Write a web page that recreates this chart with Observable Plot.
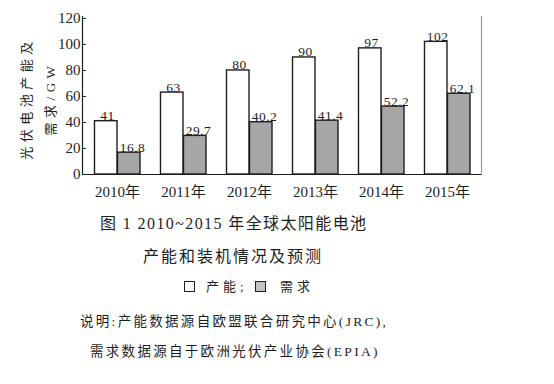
<!DOCTYPE html>
<html><head><meta charset="utf-8">
<script src="https://cdn.jsdelivr.net/npm/d3@7"></script>
<script src="https://cdn.jsdelivr.net/npm/@observablehq/plot@0.6"></script>
<style>
body{margin:0;background:#fff;width:554px;height:384px;position:relative;overflow:hidden;font-family:"Liberation Serif","Noto Sans CJK SC",serif;color:#1e1e1e}
#chart{position:absolute;left:0;top:0}
.cap{position:absolute;white-space:nowrap;line-height:1}
.box{position:absolute;width:9px;height:9px;border:1.4px solid #1e1e1e}
</style></head><body>
<div id="chart"></div>
<div class="cap" id="t1" style="left:100px;top:216px;font-size:16px;letter-spacing:1.4px">图 1 2010~2015 年全球太阳能电池</div>
<div class="cap" id="t2" style="left:143px;top:249px;font-size:16px;letter-spacing:2px">产能和装机情况及预测</div>
<div class="box" style="left:184px;top:281px;background:#fff"></div>
<div class="cap" style="left:206px;top:280px;font-size:13px;letter-spacing:4px">产能;</div>
<div class="box" style="left:255px;top:281px;background:#c2c2c2"></div>
<div class="cap" style="left:280px;top:280px;font-size:13px;letter-spacing:4px">需求</div>
<div class="cap" id="n1" style="left:80px;top:315px;font-size:13.5px;letter-spacing:2.3px">说明:产能数据源自欧盟联合研究中心(JRC),</div>
<div class="cap" id="n2" style="left:90px;top:345px;font-size:13.5px;letter-spacing:2.3px">需求数据源自于欧洲光伏产业协会(EPIA)</div>
<script>
const years = ["2010年","2011年","2012年","2013年","2014年","2015年"];
const capacity = [41, 63, 80, 90, 97, 102];
const demand = [16.8, 29.7, 40.2, 41.4, 52.2, 62.1];
const capacityLabels = ["41","63","80","90","97","102"];
const demandLabels = ["16.8","29.7","40.2","41.4","52.2","62.1"];
const yTicks = [0, 20, 40, 60, 80, 100, 120];
const yLabel = "光伏电池产能及\n需求/GW";

const capRows = years.map((y, i) => ({year: y, value: capacity[i], label: capacityLabels[i]}));
const demRows = years.map((y, i) => ({year: y, value: demand[i], label: demandLabels[i]}));

const font = '"Liberation Serif","Noto Sans CJK SC",serif';
const chart = Plot.plot({
  width: 554,
  height: 200,
  marginLeft: 82,
  marginRight: 73,
  marginTop: 16,
  marginBottom: 26,
  style: {fontFamily: font, color: "#1e1e1e", background: "#fff"},
  x: {domain: years, padding: 0, label: null},
  y: {domain: [0, 121.5], label: null},
  marks: [
    Plot.barY(capRows, {x: "year", y: "value", fill: "#fff", stroke: "#1e1e1e", strokeWidth: 1.4, insetLeft: 10.5, insetRight: 33}),
    Plot.barY(demRows, {x: "year", y: "value", fill: "#a6a6a6", stroke: "#1e1e1e", strokeWidth: 1.4, insetLeft: 33.5, insetRight: 10}),
    Plot.text(capRows, {x: "year", y: "value", text: "label", dx: -10, dy: -1, lineAnchor: "bottom", fontSize: 13.5, fill: "#1e1e1e"}),
    Plot.text(demRows, {x: "year", y: "value", text: "label", dx: 15, dy: -1, lineAnchor: "bottom", fontSize: 13.5, fill: "#1e1e1e"}),
    Plot.frame({anchor: "left", stroke: "#1e1e1e", strokeWidth: 1.2}),
    Plot.frame({anchor: "right", stroke: "#9a9a9a", strokeWidth: 1.2}),
    Plot.ruleY([0], {stroke: "#1e1e1e", strokeWidth: 1.2}),
    Plot.axisY(yTicks, {anchor: "left", tickSize: 0, tickPadding: 2, fontSize: 15, label: null}),
    Plot.axisY(yTicks, {anchor: "right", frameAnchor: "left", tickSize: 3, tickFormat: () => "", label: null}),
    Plot.axisX({tickSize: 0, tickPadding: 12, fontSize: 15, label: null}),
    Plot.text([yLabel], {frameAnchor: "left", textAnchor: "middle", dx: -47, dy: 3, rotate: -90, lineHeight: 1.85, fontSize: 13, fill: "#1e1e1e"})
  ]
});
const textGroups = d3.select(chart).selectAll('g[aria-label="text"]').nodes();
d3.select(textGroups[textGroups.length - 1]).attr("letter-spacing", "4.5px");
d3.select(textGroups[0]).attr("letter-spacing", "0.5px");
d3.select(textGroups[1]).attr("letter-spacing", "0.5px");
document.getElementById("chart").appendChild(chart);
</script>
</body></html>
